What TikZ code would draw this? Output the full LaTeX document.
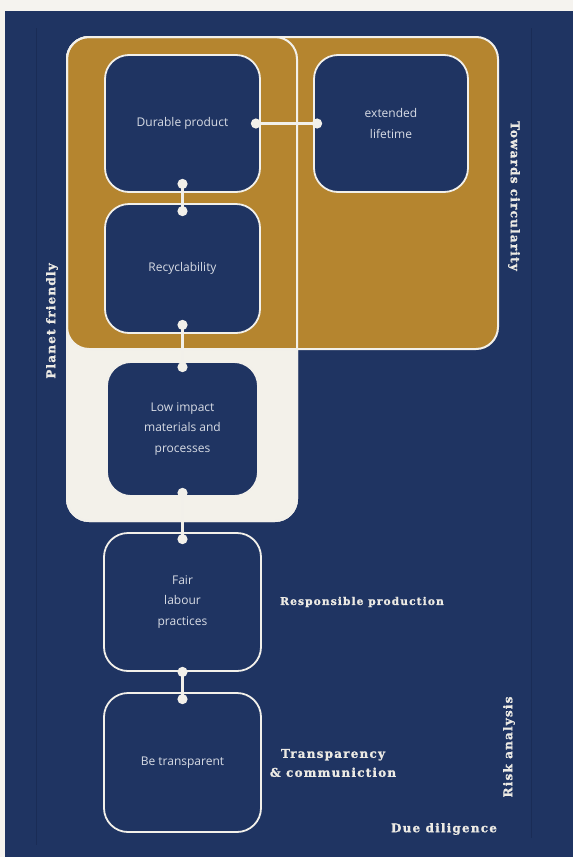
\documentclass[tikz,border=0pt]{standalone}
\usepackage{fontspec}
\setmainfont{Open Sans}
\newfontfamily\slab[LetterSpace=10, BoldFeatures={FakeBold=1.2}]{DejaVu Serif}
\usetikzlibrary{arrows.meta}
\definecolor{navy}{HTML}{1F3462}
\definecolor{navyline}{HTML}{1A2C56}
\definecolor{gold}{HTML}{B5852F}
\definecolor{cream}{HTML}{F3F1EA}
\definecolor{paper}{HTML}{F5F3EF}
\definecolor{edge}{HTML}{F2F0EA}
\definecolor{boxtext}{HTML}{D8DCE5}
\definecolor{labeltext}{HTML}{ECEAE4}
\tikzset{
  panel/.style={draw=edge, line width=2pt, rounded corners=22pt},
  stepbox/.style={rectangle, draw=edge, fill=navy, line width=1.8pt,
    rounded corners=24pt, text=boxtext, align=center,
    font=\fontsize{12}{20.3}\selectfont, inner sep=0pt},
  link/.style={draw=edge, line width=2.4pt, {Circle[length=10pt]}-{Circle[length=10pt]}},
  sidelabel/.style={text=labeltext, font=\slab\bfseries\fontsize{12}{19}\selectfont, inner sep=0pt}
}
\begin{document}
\begin{tikzpicture}[x=1pt,y=-1pt]
\fill[paper] (0,0) rectangle (573,857);
\fill[navy] (5,11) rectangle (573,857);
\useasboundingbox (0,0) rectangle (573,857);
\draw[navyline, line width=0.8pt] (36,28) -- (36,845);
\draw[navyline, line width=0.8pt] (531,28) -- (531,838);

% panels
\draw[panel, fill=cream] (67,37) rectangle (297,521);
\draw[panel, fill=gold] (67,37) rectangle (498,349);
\draw[panel] (67,37) rectangle (297,521);

% boxes
\node[stepbox, minimum width=155, minimum height=137] (dur) at (182.5,123.5) {Durable product};
\node[stepbox, minimum width=154, minimum height=137] (ext) at (391,123.5) {extended\\lifetime};
\node[stepbox, minimum width=155, minimum height=129] (rec) at (182.5,268.5) {Recyclability};
\node[stepbox, minimum width=151, minimum height=134] (low) at (182.5,429) {Low impact\\materials and\\processes};
\node[stepbox, minimum width=157, minimum height=138] (fair) at (182.5,602) {Fair\\labour\\practices};
\node[stepbox, minimum width=157, minimum height=139] (be) at (182.5,762.5) {Be transparent};

% connectors
\draw[link] ([xshift=-10pt]dur.east) -- ([xshift=9pt]ext.west);
\draw[link] ([yshift=14pt]dur.south) -- ([yshift=-13pt]rec.north);
\draw[link] ([yshift=14pt]rec.south) -- ([yshift=-11pt]low.north);
\draw[link] ([yshift=9pt]low.south) -- ([yshift=-12pt]fair.north);
\draw[link] ([yshift=5pt]fair.south) -- ([yshift=-12pt]be.north);

% labels
\node[sidelabel, rotate=-90] (circ) at (514,196) {Towards circularity};
\node[sidelabel, rotate=90] (planet) at (52,321) {Planet friendly};
\node[sidelabel, rotate=90] (risk) at (509,747) {Risk analysis};
\node[sidelabel, anchor=west, font=\slab\bfseries\fontsize{10.7}{19}\selectfont] (resp) at (280,602) {Responsible production};
\node[sidelabel, align=center] (transp) at (333,763) {Transparency\\\& communiction};
\node[sidelabel] (due) at (444,829) {Due diligence};
\end{tikzpicture}
\end{document}
